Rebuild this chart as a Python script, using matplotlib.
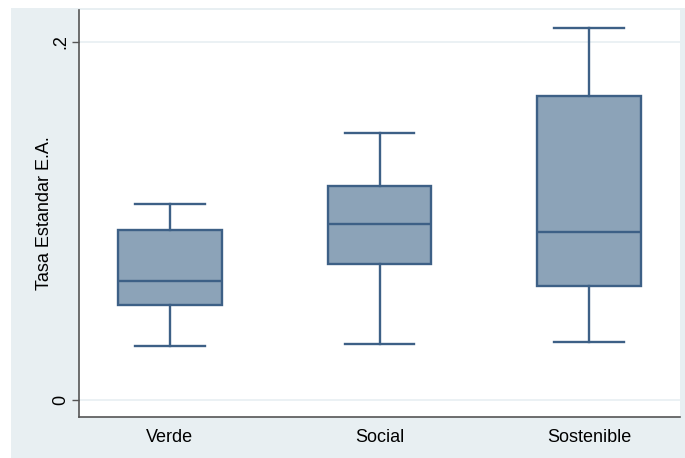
import matplotlib.pyplot as plt
from matplotlib.patches import Rectangle

plt.rcParams['font.family'] = ['Liberation Sans', 'DejaVu Sans']

# box plot summary per bond type
categories = ['Verde', 'Social', 'Sostenible']
whislo = [0.0302, 0.0313, 0.0324]
q1 = [0.0531, 0.0760, 0.0637]
med = [0.0665, 0.0983, 0.0939]
q3 = [0.0950, 0.1196, 0.1698]
whishi = [0.1095, 0.1492, 0.2078]

stats = []
for i, name in enumerate(categories):
    stats.append({'label': name, 'whislo': whislo[i], 'q1': q1[i], 'med': med[i],
                  'q3': q3[i], 'whishi': whishi[i], 'fliers': []})

fig = plt.figure(figsize=(6.85, 4.58), dpi=100)
fig.patch.set_facecolor('white')
# light graph region behind the plot area
fig.add_artist(Rectangle((11 / 685, 0), 1, 450 / 458, transform=fig.transFigure,
                         facecolor='#e8eff2', edgecolor='none', zorder=-10))

ax = fig.add_axes([79 / 685, 1 - 417 / 458, 601 / 685, 407 / 458])
ax.set_facecolor('white')

edge = '#3d6086'
ax.bxp(stats, positions=[1, 2, 3], widths=0.495, patch_artist=True, showfliers=False,
       boxprops=dict(facecolor='#8ca3b8', edgecolor=edge, linewidth=1.7),
       medianprops=dict(color=edge, linewidth=1.7),
       whiskerprops=dict(color=edge, linewidth=1.7),
       capprops=dict(color=edge, linewidth=1.7),
       capwidths=0.333)

ax.set_xlim(0.567, 3.433)
ax.set_ylim(-0.0095, 0.2179)
ax.set_yticks([0, 0.2])
ax.set_yticklabels(['0', '.2'], rotation=90, va='center')
ax.grid(axis='y', color='#e8eff2', linewidth=1.2)
ax.set_axisbelow(True)

for s in ['top', 'right']:
    ax.spines[s].set_visible(False)
for s in ['left', 'bottom']:
    ax.spines[s].set_color('#555555')
    ax.spines[s].set_linewidth(1.2)

ax.tick_params(axis='x', length=0, labelsize=13, pad=9)
ax.tick_params(axis='y', length=5, width=1, color='#555555', labelsize=13, pad=2)
ax.set_ylabel('Tasa Estandar E.A.', fontsize=13, va='center')
ax.yaxis.set_label_coords(-34 / 601, 0.5)

fig.savefig('out.png', dpi=100)
